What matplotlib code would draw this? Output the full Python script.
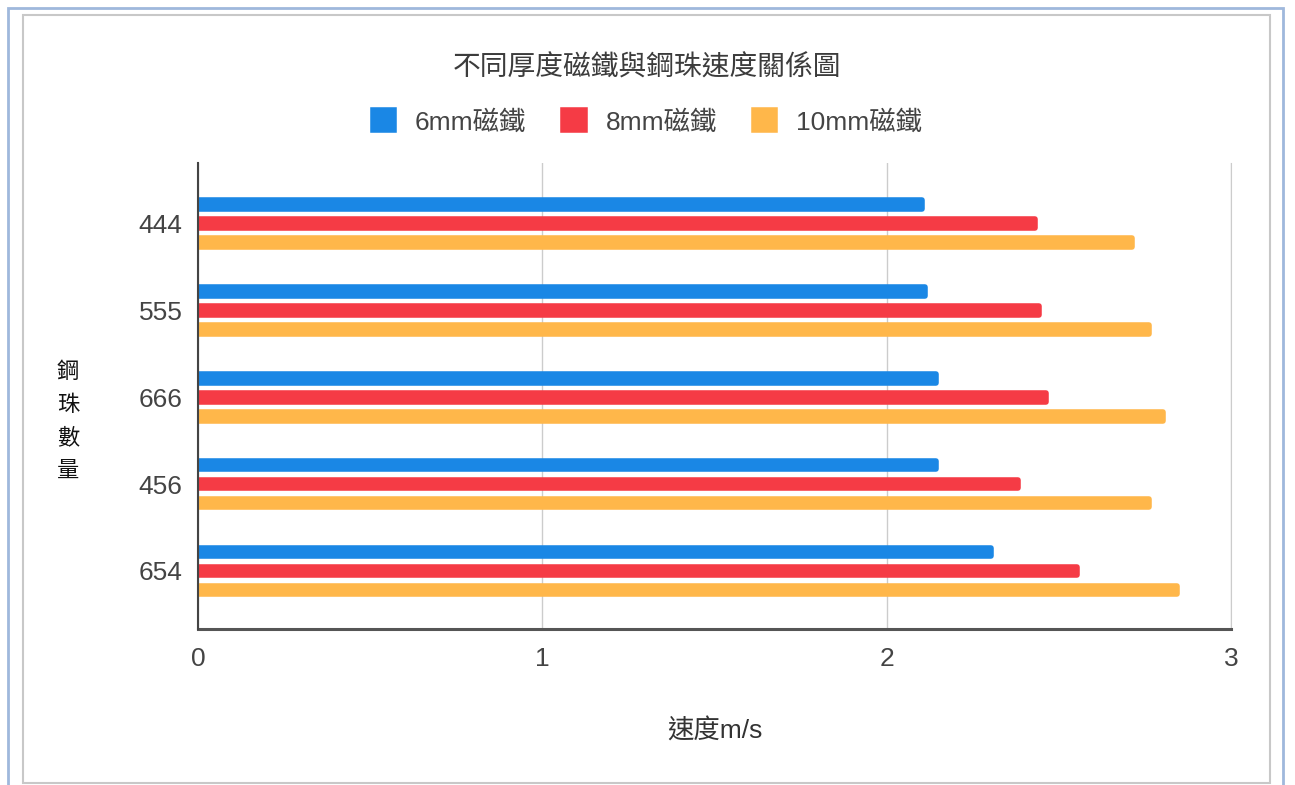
import matplotlib.pyplot as plt
import numpy as np
from matplotlib.patches import Rectangle

plt.rcParams['font.family'] = ['Liberation Sans', 'Noto Sans CJK TC']

# 鋼珠數量 groups and speed (m/s) for each magnet thickness
groups = ['444', '555', '666', '456', '654']
series = ['6mm磁鐵', '8mm磁鐵', '10mm磁鐵']
speed_6mm = [2.11, 2.12, 2.15, 2.15, 2.31]
speed_8mm = [2.44, 2.45, 2.47, 2.39, 2.56]
speed_10mm = [2.72, 2.77, 2.81, 2.77, 2.85]
colors = ['#1a87e5', '#f53b45', '#ffb74a']

W, H = 1295, 785
fig = plt.figure(figsize=(W / 100, H / 100), dpi=100)

def fx(px):
    return px / W

def fy(py):
    return 1 - py / H

# page frames
fig.add_artist(Rectangle((fx(8), fy(800)), fx(1283) - fx(8), fy(8) - fy(800),
                         transform=fig.transFigure, fill=False,
                         edgecolor='#9fb8dc', lw=2))
fig.add_artist(Rectangle((fx(23), fy(783)), fx(1270) - fx(23), fy(15) - fy(783),
                         transform=fig.transFigure, fill=False,
                         edgecolor='#c8c8c8', lw=1.5))

ax = fig.add_axes([fx(198), fy(629), fx(1231) - fx(198), fy(163) - fy(629)])

y = np.arange(len(groups))
step = 0.219
h = 0.10
edge = 4          # rounded-corner stroke, pts
inset = 0.008     # half the stroke width in data units
for i, vals in enumerate([speed_6mm, speed_8mm, speed_10mm]):
    ax.barh(y + (i - 1) * step, np.array(vals) - inset, height=h,
            color=colors[i], edgecolor=colors[i], lw=edge, joinstyle='round',
            label=series[i], zorder=3)

ax.set_xlim(0, 3)
ax.set_ylim(4.67, -0.70)
ax.set_xticks([0, 1, 2, 3])
ax.set_yticks(y)
ax.set_yticklabels(groups)
ax.tick_params(axis='y', length=0, pad=11, labelsize=19, labelcolor='#444444')
ax.tick_params(axis='x', length=0, pad=13, labelsize=19, labelcolor='#444444')
ax.grid(axis='x', color='#cccccc', lw=1, zorder=0)
ax.spines['top'].set_visible(False)
ax.spines['right'].set_color('#cccccc')
ax.spines['left'].set_color('#444444')
ax.spines['left'].set_linewidth(1.5)
ax.spines['left'].set_zorder(4)
ax.spines['bottom'].set_color('#555555')
ax.spines['bottom'].set_linewidth(2.2)

fig.text(0.5, fy(68), '不同厚度磁鐵與鋼珠速度關係圖', ha='center', va='center',
         fontsize=20, color='#3c3c3c')

handles, labels = ax.get_legend_handles_labels()
fig.legend(handles, labels, loc='center', bbox_to_anchor=(0.5, fy(122)),
           ncol=3, frameon=False, fontsize=19, labelcolor='#444444',
           handlelength=0.8, handleheight=0.8, handletextpad=0.8,
           columnspacing=1.4)

fig.text(fx(715), fy(731), '速度m/s', ha='center', va='center',
         fontsize=19, color='#333333')
fig.text(fx(68), fy(422), '鋼\n珠\n數\n量', ha='center', va='center',
         fontsize=16, linespacing=1.75, color='#111111')

fig.savefig('out.png', dpi=100)
